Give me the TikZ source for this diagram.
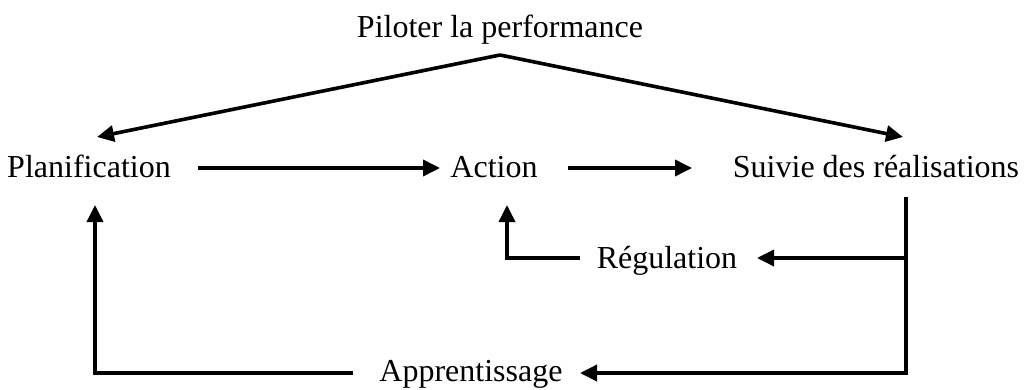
\documentclass[tikz,border=0pt]{standalone}
\usepackage{fontspec}
\setmainfont{Liberation Serif}
\usetikzlibrary{arrows.meta}
\begin{document}
\begin{tikzpicture}[x=1pt,y=-1pt,
  lbl/.style={font=\fontsize{32}{38}\selectfont, anchor=base, inner sep=0pt},
  flow/.style={line width=3.6pt, line join=miter, -{Triangle[length=17pt,width=16pt]}},
  link/.style={line width=3.6pt}]
\useasboundingbox (0,0) rectangle (1032,390);
% labels
\node[lbl] (pil) at (500,38) {Piloter la performance};
\node[lbl] (plan) at (89,178) {Planification};
\node[lbl] (act) at (494,178) {Action};
\node[lbl] (suiv) at (876,178) {Suivie des réalisations};
\node[lbl] (reg) at (667,268) {Régulation};
\node[lbl] (app) at (471,381) {Apprentissage};
% connector ends
\coordinate (apex) at (500,55);
\coordinate (planIn) at (97,137);
\coordinate (suivIn) at (903,137);
\coordinate (planOut) at (198,168);
\coordinate (actIn) at (440,168);
\coordinate (actOut) at (568,168);
\coordinate (suivEnd) at (692,168);
\coordinate (suivDown) at (906,197);
\coordinate (branch) at (906,258);
\coordinate (corner) at (906,373);
\coordinate (regIn) at (757,258);
\coordinate (regOut) at (580,258);
\coordinate (regBend) at (507,258);
\coordinate (actUp) at (507,205);
\coordinate (appIn) at (580,373);
\coordinate (appOut) at (353,373);
\coordinate (appBend) at (95,373);
\coordinate (planUp) at (95,205);
% connectors
\draw[flow] (apex) -- (planIn);
\draw[flow] (apex) -- (suivIn);
\draw[flow] (planOut) -- (actIn);
\draw[flow] (actOut) -- (suivEnd);
\draw[flow] (suivDown) -- (corner) -- (appIn);
\draw[flow] (branch) -- (regIn);
\draw[flow] (regOut) -- (regBend) -- (actUp);
\draw[flow] (appOut) -- (appBend) -- (planUp);
\end{tikzpicture}
\end{document}
